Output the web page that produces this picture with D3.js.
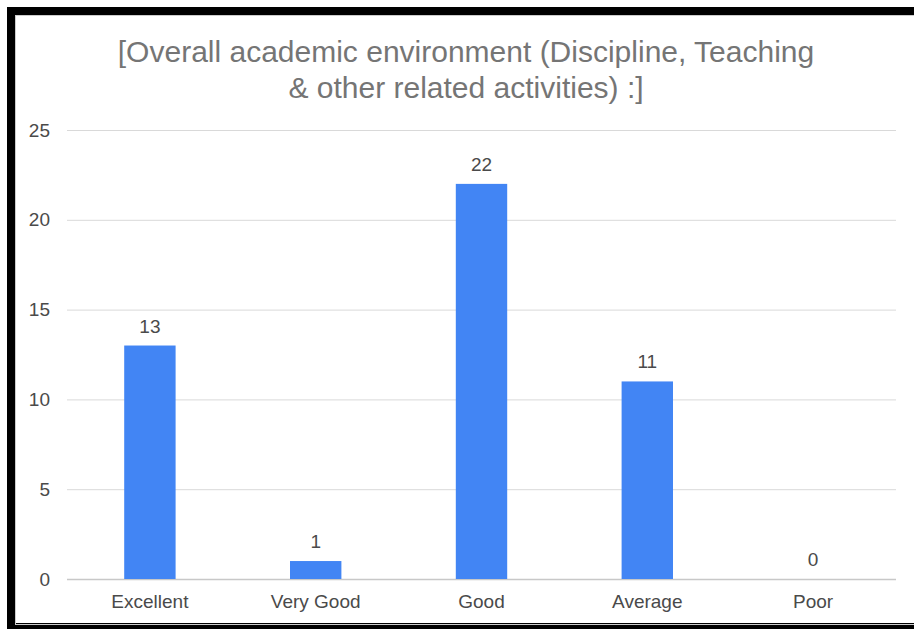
<!DOCTYPE html>
<html>
<head>
<meta charset="utf-8">
<script src="https://cdn.jsdelivr.net/npm/d3@7"></script>
<style>
  body { margin: 0; background: #fff; }
</style>
</head>
<body>
<div id="chart"></div>
<script>
const categories = ["Excellent", "Very Good", "Good", "Average", "Poor"];
const counts = [13, 1, 22, 11, 0];
const yTicks = [0, 5, 10, 15, 20, 25];
const titleLines = ["[Overall academic environment (Discipline, Teaching", "& other related activities) :]"];

const width = 914, height = 629;
const margin = {top: 130, right: 18, bottom: 50, left: 67};
const font = "Liberation Sans, Arial, sans-serif";

const svg = d3.select("#chart").append("svg")
    .attr("width", width)
    .attr("height", height);

// frame
svg.append("rect").attr("x", 0).attr("y", 0).attr("width", width).attr("height", height).attr("fill", "#fff");
svg.append("rect")
    .attr("x", 11).attr("y", 11)
    .attr("width", width + 20).attr("height", 616)
    .attr("fill", "none")
    .attr("stroke", "#000")
    .attr("stroke-width", 8);
svg.append("rect")
    .attr("x", 15.5).attr("y", 15.5)
    .attr("width", width).attr("height", 609)
    .attr("fill", "none")
    .attr("stroke", "#ccc")
    .attr("stroke-width", 1);

const x = d3.scaleBand()
    .domain(categories)
    .range([margin.left, width - margin.right])
    .paddingInner(0.69)
    .paddingOuter(0.345);

const y = d3.scaleLinear()
    .domain([0, 25])
    .range([579, margin.top]);

// gridlines
svg.append("g")
    .selectAll("line")
    .data(yTicks)
    .join("line")
    .attr("x1", margin.left)
    .attr("x2", width - margin.right)
    .attr("y1", d => y(d) + 0.5)
    .attr("y2", d => y(d) + 0.5)
    .attr("stroke", d => d === 0 ? "#c8c8c8" : "#d9d9d9")
    .attr("stroke-width", d => d === 0 ? 1.5 : 1);

// y labels
svg.append("g")
    .selectAll("text")
    .data(yTicks)
    .join("text")
    .attr("x", 50)
    .attr("y", d => y(d))
    .attr("dy", "0.35em")
    .attr("text-anchor", "end")
    .style("font-family", font)
    .style("font-size", "19px")
    .style("fill", "#4a4a4a")
    .text(d => d);

// bars
svg.append("g")
    .selectAll("rect")
    .data(counts)
    .join("rect")
    .attr("x", (d, i) => x(categories[i]))
    .attr("y", d => y(d))
    .attr("width", x.bandwidth())
    .attr("height", d => y(0) - y(d))
    .attr("fill", "#4285f4");

// value labels
svg.append("g")
    .selectAll("text")
    .data(counts)
    .join("text")
    .attr("x", (d, i) => x(categories[i]) + x.bandwidth() / 2)
    .attr("y", d => y(d) - 13)
    .attr("text-anchor", "middle")
    .style("font-family", font)
    .style("font-size", "19px")
    .style("fill", "#4a4a4a")
    .text(d => d);

// category labels
svg.append("g")
    .selectAll("text")
    .data(categories)
    .join("text")
    .attr("x", d => x(d) + x.bandwidth() / 2)
    .attr("y", 608)
    .attr("text-anchor", "middle")
    .style("font-family", font)
    .style("font-size", "19px")
    .style("fill", "#4a4a4a")
    .text(d => d);

// title
svg.append("g")
    .selectAll("text")
    .data(titleLines)
    .join("text")
    .attr("x", 466)
    .attr("y", (d, i) => 62 + i * 36)
    .attr("text-anchor", "middle")
    .style("font-family", font)
    .style("font-size", "30px")
    .style("fill", "#757575")
    .text(d => d);
</script>
</body>
</html>
